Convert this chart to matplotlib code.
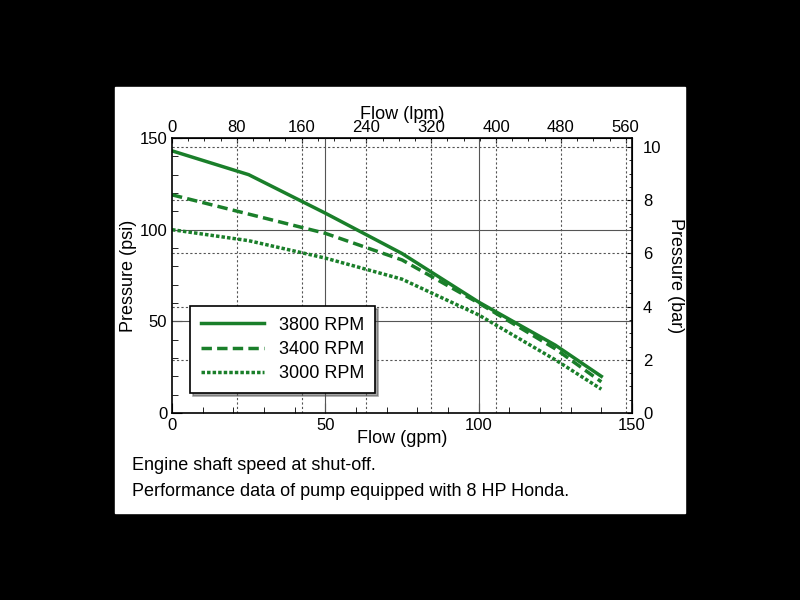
import matplotlib
matplotlib.use("Agg")
import matplotlib.pyplot as plt
from matplotlib.ticker import MultipleLocator

plt.rcParams["font.family"] = "Liberation Sans"

flow_gpm = [0, 25, 50, 75, 100, 125, 140]
psi_3800 = [143, 130, 109, 87, 60.5, 37, 20]
psi_3400 = [119, 108.5, 98, 83.5, 60, 35, 17]
psi_3000 = [100, 94, 84.5, 73, 53.5, 29, 13]
labels = ["3800 RPM", "3400 RPM", "3000 RPM"]

GREEN = "#1a7f2a"
LPM = 3.785
BAR = 14.5038

fig = plt.figure(figsize=(8, 6), dpi=100, facecolor="black")
bg = plt.Rectangle((115/800, 87/600), 570/800, 426/600,
                   transform=fig.transFigure, color="white", zorder=-10)
fig.add_artist(bg)
ax = fig.add_axes([172/800, 1-413/600, 460/800, 275/600])
ax.set_zorder(5)
ax.set_xlim(0, 150)
ax.set_ylim(0, 150)

# grid: solid at major, dashed at lpm / bar ticks
for v in (50, 100):
    ax.axvline(v, color="#555", lw=0.8)
    ax.axhline(v, color="#555", lw=0.8)
for l in range(80, 561, 80):
    ax.axvline(l / LPM, color="#555", lw=0.8, ls=(0, (2, 2)))
for b in range(2, 11, 2):
    ax.axhline(b * BAR, color="#555", lw=0.8, ls=(0, (2, 2)))

ax.plot(flow_gpm, psi_3800, color=GREEN, lw=2.5, label=labels[0])
ax.plot(flow_gpm, psi_3400, color=GREEN, lw=2.5, ls=(0, (3, 1.5)), label=labels[1])
ax.plot(flow_gpm, psi_3000, color=GREEN, lw=2.5, ls=(0, (1, 0.6)), label=labels[2])

ax.xaxis.set_major_locator(MultipleLocator(50))
ax.xaxis.set_minor_locator(MultipleLocator(10))
ax.yaxis.set_major_locator(MultipleLocator(50))
ax.yaxis.set_minor_locator(MultipleLocator(10))
ax.tick_params(which="both", direction="in", labelsize=12)
ax.tick_params(which="major", length=7)
ax.tick_params(which="minor", length=4)
for s in ax.spines.values():
    s.set_linewidth(1.2)
ax.set_xlabel("Flow (gpm)", fontsize=13, labelpad=-2)
ax.set_ylabel("Pressure (psi)", fontsize=13, labelpad=2)

top = ax.secondary_xaxis("top", functions=(lambda x: x * LPM, lambda x: x / LPM))
top.set_xticks(range(0, 561, 80))
top.xaxis.set_minor_locator(MultipleLocator(20))
top.tick_params(which="both", direction="in", labelsize=12, pad=2)
top.set_xlabel("Flow (lpm)", fontsize=13, labelpad=1)

right = ax.secondary_yaxis("right", functions=(lambda y: y / BAR, lambda y: y * BAR))
right.set_yticks(range(0, 11, 2))
right.yaxis.set_minor_locator(MultipleLocator(0.5))
right.tick_params(which="both", direction="in", labelsize=12, pad=8)
right.set_ylabel("Pressure (bar)", fontsize=13, rotation=270, labelpad=16)

leg = ax.legend(loc="lower left", bbox_to_anchor=(0.02, 0.04), fontsize=13,
                fancybox=False, shadow=True, framealpha=1, handlelength=3.5,
                borderpad=0.6, labelspacing=0.4)
leg.get_frame().set_edgecolor("black")
leg.get_frame().set_linewidth(1.2)

fig.text(132/800, 1-466/600, "Engine shaft speed at shut-off.", fontsize=13, va="center")
fig.text(132/800, 1-491/600, "Performance data of pump equipped with 8 HP Honda.",
         fontsize=13, va="center")

fig.savefig("out.png", dpi=100, facecolor="black")
